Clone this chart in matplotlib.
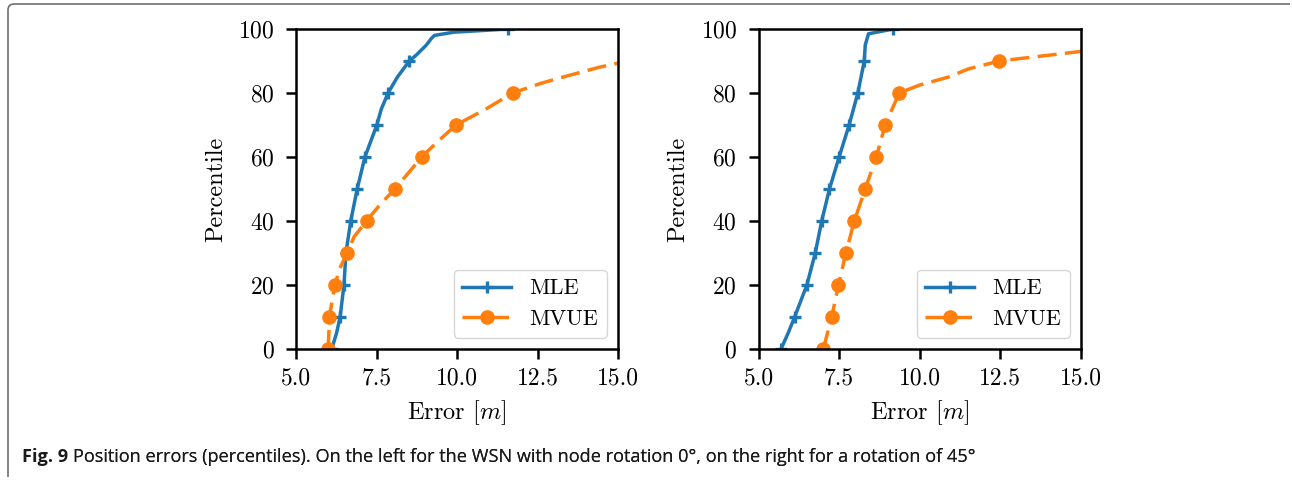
import matplotlib

matplotlib.use("Agg")
import matplotlib.pyplot as plt
from matplotlib.patches import PathPatch
from matplotlib.path import Path

# percentile / error pairs (markers on multiples of 10)
left_mle_pct = [0, 5, 10, 20, 30, 40, 50, 60, 70, 75, 80, 85, 90, 92, 95, 97, 98, 99, 100]
left_mle_err = [6.11, 6.26, 6.37, 6.49, 6.55, 6.70, 6.90, 7.14, 7.51, 7.65, 7.86, 8.15,
                8.52, 8.75, 9.05, 9.20, 9.30, 9.90, 11.59]
left_mvue_pct = [0, 5, 10, 15, 20, 25, 30, 35, 40, 45, 50, 55, 60, 65, 70, 75, 80, 83,
                 85, 88, 90, 100]
left_mvue_err = [6.00, 6.02, 6.04, 6.12, 6.21, 6.35, 6.59, 6.80, 7.19, 7.60, 8.07, 8.49,
                 8.90, 9.42, 9.97, 10.90, 11.73, 12.60, 13.30, 14.40, 15.30, 25.0]

right_mle_pct = [0, 5, 10, 20, 30, 40, 50, 60, 70, 80, 90, 95, 98.5, 100]
right_mle_err = [5.70, 5.92, 6.12, 6.50, 6.76, 6.96, 7.20, 7.50, 7.81, 8.08, 8.28, 8.31,
                 8.41, 9.18]
right_mvue_pct = [0, 10, 20, 30, 40, 50, 60, 70, 80, 82.5, 85, 87.5, 90, 93, 100]
right_mvue_err = [7.01, 7.27, 7.48, 7.71, 7.97, 8.31, 8.65, 8.93, 9.36, 10.0, 10.9, 11.5,
                  12.47, 15.0, 25.0]

x_ticks = [5.0, 7.5, 10.0, 12.5, 15.0]
y_ticks = [0, 20, 40, 60, 80, 100]
caption_bold = "Fig. 9"
caption = ("Position errors (percentiles). On the left for the WSN with node rotation 0°, "
           "on the right for a rotation of 45°")

plt.rcParams["font.family"] = "cmr10"
plt.rcParams["mathtext.fontset"] = "cm"
plt.rcParams["axes.unicode_minus"] = False
plt.rcParams["axes.formatter.use_mathtext"] = True

W, H = 1292, 480
fig = plt.figure(figsize=(W / 100, H / 100), dpi=100)


def tens(pct):
    return [i for i, p in enumerate(pct) if p % 10 == 0]


panels = [
    ((296, 29, 322, 320), left_mle_pct, left_mle_err, left_mvue_pct, left_mvue_err),
    ((758.5, 29, 322.5, 320), right_mle_pct, right_mle_err, right_mvue_pct, right_mvue_err),
]
for (x0, y0, w, h), mp, me, vp, ve in panels:
    ax = fig.add_axes([x0 / W, 1 - (y0 + h) / H, w / W, h / H])
    ax.plot(me, mp, color="#1f77b4", lw=2.5, marker="+", ms=9, mew=2.4,
            markevery=tens(mp), label="MLE")
    ax.plot(ve, vp, color="#ff7f0e", lw=2.5, ls=(0, (5.5, 2.4)), marker="o", ms=9.5,
            markevery=tens(vp), label="MVUE")
    ax.set_xlim(5, 15)
    ax.set_ylim(0, 100)
    ax.set_xticks(x_ticks)
    ax.set_xticklabels([f"{t:.1f}" for t in x_ticks])
    ax.set_yticks(y_ticks)
    ax.tick_params(labelsize=17, width=1.8, length=7.5, pad=6)
    ax.tick_params(axis="y", pad=8)
    for s in ax.spines.values():
        s.set_linewidth(1.8)
    ax.set_xlabel("Error [$m$]", fontsize=17.5, labelpad=6)
    ax.set_ylabel("Percentile", fontsize=17.5, labelpad=8)
    ax.legend(loc="lower right", fontsize=16, handlelength=2.2, framealpha=0.8,
              borderaxespad=0.5)

# frame: top and left edges with a rounded corner
px = lambda x, y: (x / W, 1 - y / H)
verts = [px(8, 477), px(8, 10), px(8, 4), px(14, 4), px(1290, 4)]
codes = [Path.MOVETO, Path.LINETO, Path.CURVE3, Path.CURVE3, Path.LINETO]
fig.add_artist(PathPatch(Path(verts, codes), transform=fig.transFigure,
                         fill=False, edgecolor="#6f6f6f", lw=1.2))

cap_font = ["Liberation Sans Narrow", "Open Sans", "DejaVu Sans"]
t1 = fig.text(22 / W, 1 - 462 / H, caption_bold, family=cap_font, fontsize=13.1,
              fontweight="bold", ha="left", va="baseline", color="#1a1a1a")
ann = plt.annotate(caption, xy=(1, 0), xycoords=t1, xytext=(3.5, 0),
                   textcoords="offset points", family=cap_font, fontsize=13.1,
                   ha="left", va="bottom", color="#1a1a1a", annotation_clip=False)
fig.add_artist(ann)

fig.savefig("out.png", dpi=100)
